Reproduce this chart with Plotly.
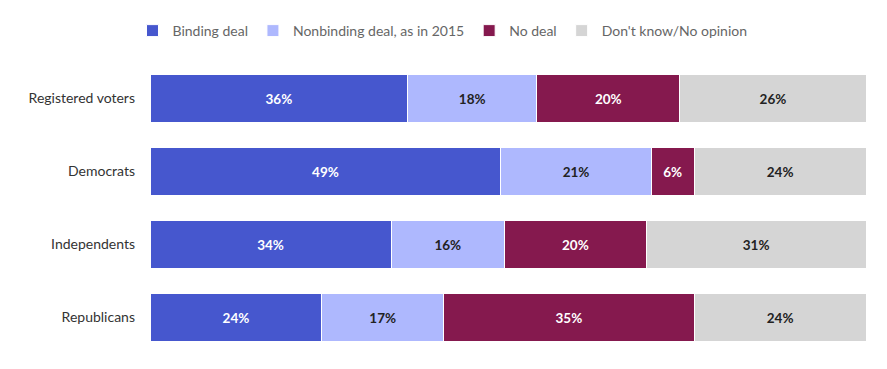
import plotly.graph_objects as go

groups = ["Registered voters", "Democrats", "Independents", "Republicans"]
series_names = ["Binding deal", "Nonbinding deal, as in 2015", "No deal", "Don't know/No opinion"]
binding = [36, 49, 34, 24]
nonbinding = [18, 21, 16, 17]
no_deal = [20, 6, 20, 35]
dont_know = [26, 24, 31, 24]

colors = ["#4657CE", "#AEB8FE", "#85194E", "#D5D5D5"]
text_colors = ["#FFFFFF", "#222222", "#FFFFFF", "#222222"]

fig = go.Figure()
for name, vals, c, tc in zip(series_names, [binding, nonbinding, no_deal, dont_know], colors, text_colors):
    fig.add_trace(go.Bar(
        y=groups, x=vals, name=name, orientation="h",
        marker=dict(color=c, line=dict(color="#FFFFFF", width=1)),
        text=[f"{v}%" for v in vals], textposition="inside",
        insidetextanchor="middle", textangle=0, constraintext="none",
        textfont=dict(family="Lato, sans-serif", size=13.5, color=tc, weight="bold"),
        hoverinfo="skip", width=0.65,
    ))

fig.update_layout(
    barmode="stack", barnorm="percent",
    width=887, height=369,
    margin=dict(l=142, r=29, t=54, b=23, autoexpand=False),
    paper_bgcolor="white", plot_bgcolor="white",
    font=dict(family="Lato, sans-serif", size=13, color="#333333"),
    legend=dict(orientation="h", x=0.4085, xanchor="center", xref="paper",
                y=0.981, yref="container", yanchor="top",
                font=dict(size=14, color="#666666"),
                itemwidth=30, traceorder="normal", itemclick=False),
    showlegend=True,
)
fig.update_xaxes(range=[0, 100], visible=False, fixedrange=True)
fig.update_yaxes(autorange="reversed", showgrid=False, zeroline=False, showline=False,
                 ticks="", ticklabelstandoff=14, tickfont=dict(size=14, color="#333333"),
                 fixedrange=True, automargin=False)

fig.write_html("out.html")
